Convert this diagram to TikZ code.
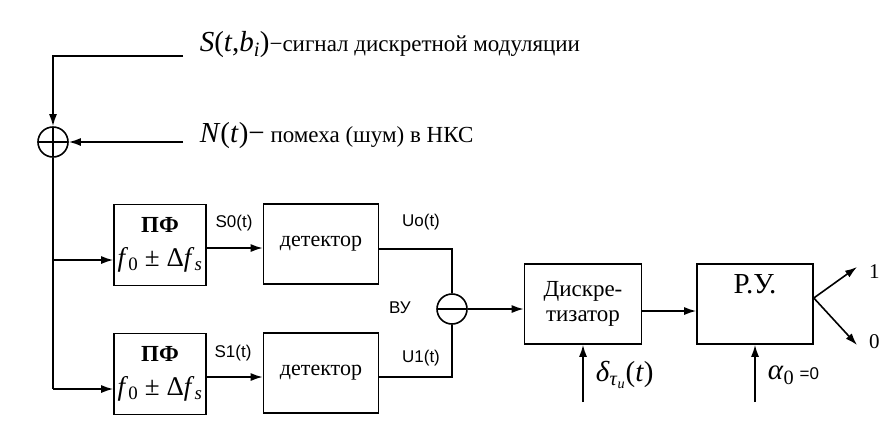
\documentclass[tikz,border=0pt]{standalone}
\usepackage{fontspec}
\setmainfont{Liberation Serif}
\setsansfont{Liberation Sans}
\usepackage{tikz}
\usetikzlibrary{positioning,arrows.meta,calc}
\newcommand{\fsz}[1]{\fontsize{#1}{#1}\selectfont}
\newcommand{\vi}[1]{\textit{#1}}
\newcommand{\pfsym}{{\bfseries\fsz{23}ПФ}\\{\fsz{27}\vi{f}\textsubscript{0} ± Δ\vi{f}\textsubscript{\vi{s}}}}
\tikzset{
	receiver scheme/.style={
		x=1pt,y=-1pt,
		line width=1.6pt,
		>={Latex[length=12pt,width=8pt]},
		font=\fsz{22}
	},
	block/.style={
		rectangle,
		draw,
		inner sep=0pt,
		align=center
	},
	pf block/.style={
		block,
		minimum width=92pt,
		minimum height=81pt,
		font=\fontsize{22}{34}\selectfont
	},
	detector block/.style={
		block,
		minimum width=115pt,
		minimum height=80pt
	},
	adder/.style={
		circle,
		draw,
		inner sep=0pt,
		minimum size=30pt,
		path picture={
			\draw (path picture bounding box.north) -- (path picture bounding box.south);
			\draw (path picture bounding box.west) -- (path picture bounding box.east);
		}
	},
	comparator/.style={
		circle,
		draw,
		inner sep=0pt,
		minimum size=30pt,
		path picture={
			\draw (path picture bounding box.west) -- (path picture bounding box.east);
		}
	},
	signal label/.style={
		font=\sffamily\fsz{17}
	},
	signal/.style={->}
}

\begin{document}
\begin{tikzpicture}[receiver scheme]
	\useasboundingbox (0,0) rectangle (893,429);
	% input: signal and noise
	\node[adder] (add) at (53,142) {};
	\coordinate (sin) at (183,56);
	\coordinate (nin) at (183,142);
	\node[anchor=west,inner sep=0pt,font=\fsz{23}] (stext) at (199,45) {{\fsz{29}\vi{S}(\vi{t},\vi{b}\textsubscript{\vi{i}})}−сигнал дискретной модуляции};
	\node[anchor=west,inner sep=0pt,font=\fsz{23}] (ntext) at (199,136) {{\fsz{29}\vi{N}(\vi{t})−} помеха (шум) в НКС};
	\draw[signal] (sin) -| (add.north);
	\draw[signal] (nin) -- (add.east);
	% two filter branches
	\coordinate (br0) at (53,260);
	\coordinate (br1) at (53,389);
	\node[pf block] (pf0) at (160,245) {\pfsym};
	\node[pf block] (pf1) at (160,374) {\pfsym};
	\node[detector block] (det0) at (321,244) {детектор};
	\node[detector block] (det1) at (321,373) {детектор};
	\draw (add.south) -- (br1);
	\draw[signal] (br0) -- (br0 -| pf0.west);
	\draw[signal] (br1) -- (br1 -| pf1.west);
	\draw[signal] ([yshift=-3pt]pf0.east) -- ([yshift=-3pt]pf0.east -| det0.west);
	\draw[signal] ([yshift=-3pt]pf1.east) -- ([yshift=-3pt]pf1.east -| det1.west);
	\node[signal label] (s0) at (234,223) {S0(t)};
	\node[signal label] (s1) at (233,353) {S1(t)};
	% subtraction
	\node[comparator] (vu) at (452,309) {};
	\draw ([yshift=-5pt]det0.east) -| (vu.north);
	\draw ([yshift=-4pt]det1.east) -| (vu.south);
	\node[signal label] (u0) at (421,222) {Uo(t)};
	\node[signal label] (u1) at (421,358) {U1(t)};
	\node[signal label] (vulabel) at (400,308) {ВУ};
	% sampler and decision device
	\node[block,minimum width=117pt,minimum height=80pt,font=\fontsize{23}{25}\selectfont] (disk) at (583,304) {Дискре-\\тизатор};
	\node[block,minimum width=116pt,minimum height=80pt] (ru) at (755,304) {};
	\node[below=7pt of ru.north,font=\fsz{29}] (rutext) {Р.У.};
	\draw[signal] (vu.east) -- (vu.east -| disk.west);
	\draw[signal] ([yshift=-7pt]disk.east) -- ([yshift=-7pt]ru.west);
	\coordinate (din) at (583,402);
	\coordinate (ain) at (755,402);
	\draw[signal] (din) -- (disk.south);
	\draw[signal] (ain) -- (ru.south);
	\node[anchor=west,inner sep=0pt,font=\fsz{29}] (dlabel) at (595,375) {\vi{δ}\textsubscript{\vi{τ}\textsubscript{\vi{и}}}(\vi{t})};
	\node[anchor=west,inner sep=0pt] (alabel) at (767,375) {{\fsz{29}\vi{α}\textsubscript{0}} {\sffamily\fsz{17}=0}};
	% outputs
	\coordinate (out1) at (857,267);
	\coordinate (out0) at (857,345);
	\draw[signal] ([yshift=6pt]ru.east) -- (out1);
	\draw[signal] ([yshift=6pt]ru.east) -- (out0);
	\node[anchor=west,font=\fsz{21}] (one) at (865,272) {1};
	\node[anchor=west,font=\fsz{21}] (zero) at (865,342) {0};
\end{tikzpicture}
\end{document}
